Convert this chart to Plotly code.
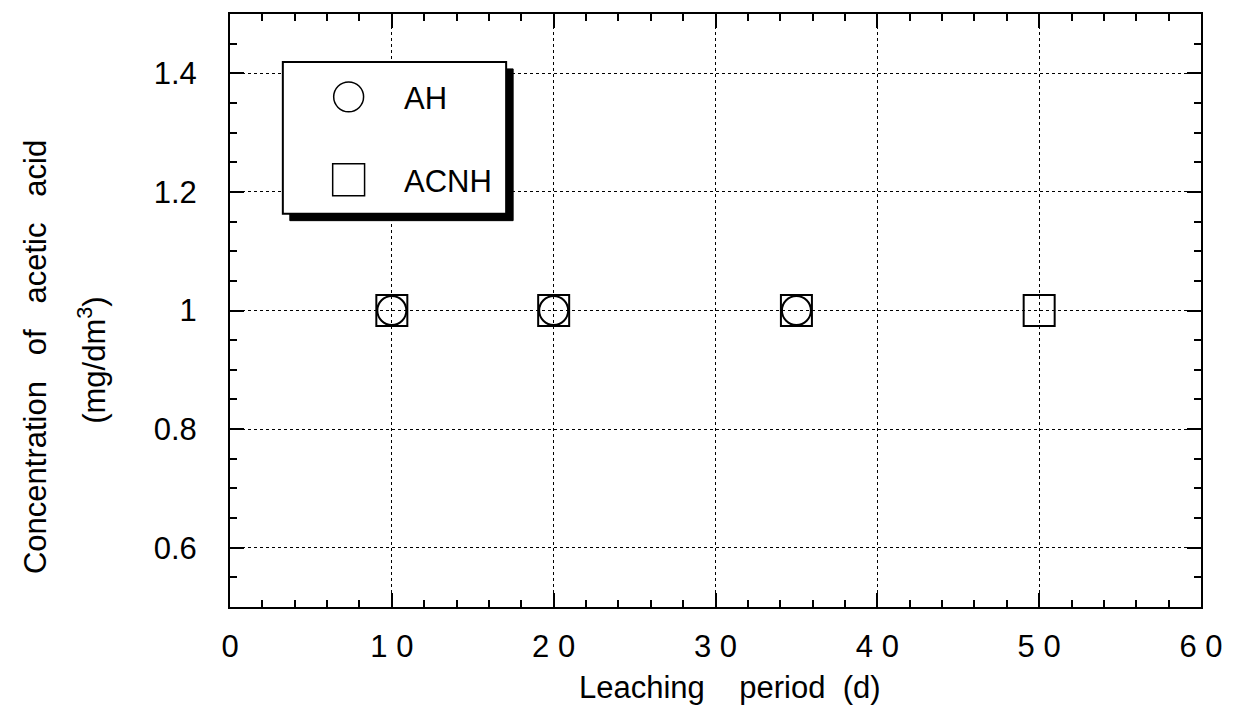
import plotly.graph_objects as go

# Data
ah_x = [10, 20, 35]
ah_y = [1.0, 1.0, 1.0]
acnh_x = [10, 20, 35, 50]
acnh_y = [1.0, 1.0, 1.0, 1.0]
x_ticks = [0, 10, 20, 30, 40, 50, 60]
x_ticktext = ["0", "1 0", "2 0", "3 0", "4 0", "5 0", "6 0"]
y_ticks = [0.6, 0.8, 1.0, 1.2, 1.4]
y_ticktext = ["0.6", "0.8", "1", "1.2", "1.4"]

W, H = 1235, 719
L, R, T, B = 230, 1204, 13, 607
FONT = "Liberation Sans, Arial, sans-serif"
NB = "\u00a0"

def px(x):
    return (x - L) / (R - L)

def py(y):
    return (B - y) / (B - T)

fig = go.Figure()
fig.add_trace(go.Scatter(x=acnh_x, y=acnh_y, mode="markers", name="ACNH",
                         marker=dict(symbol="square-open", size=31, color="black",
                                     line=dict(width=2, color="black")),
                         showlegend=False))
fig.add_trace(go.Scatter(x=ah_x, y=ah_y, mode="markers", name="AH",
                         marker=dict(symbol="circle-open", size=29, color="black",
                                     line=dict(width=2, color="black")),
                         showlegend=False))

axis_common = dict(showline=True, linecolor="black", linewidth=2, mirror="ticks",
                   ticks="inside", tickcolor="black", tickwidth=2, ticklen=14,
                   showgrid=True, gridcolor="black", griddash="dot", gridwidth=1,
                   zeroline=False,
                   tickfont=dict(family=FONT, size=31, color="black"))

fig.update_xaxes(range=[0, 60], tickvals=x_ticks, ticktext=x_ticktext,
                 minor=dict(dtick=2, ticks="inside", ticklen=7, tickcolor="black", tickwidth=1.5, showgrid=False),
                 ticklabelstandoff=11, **axis_common)
fig.update_yaxes(range=[0.5, 1.5], tickvals=y_ticks, ticktext=y_ticktext,
                 minor=dict(dtick=0.05, tick0=0.5, ticks="inside", ticklen=7, tickcolor="black", tickwidth=1.5, showgrid=False),
                 ticklabelstandoff=25, **axis_common)

TF = dict(family=FONT, size=31, color="black")
# X title
fig.add_annotation(x=px(732), y=py(688), xref="paper", yref="paper",
                   xanchor="center", yanchor="middle",
                   text="Leaching" + NB * 4 + "period" + NB * 2 + "(d)", showarrow=False, font=TF)
# Y title (two lines)
fig.add_annotation(x=px(35), y=py(357), xref="paper", yref="paper",
                   xanchor="center", yanchor="middle",
                   text="Concentration" + NB * 3 + "of" + NB * 3 + "acetic" + NB * 3 + "acid",
                   textangle=-90, showarrow=False, font=TF)
fig.add_annotation(x=px(92), y=py(360), xref="paper", yref="paper",
                   xanchor="center", yanchor="middle",
                   text="(mg/dm<sup>3</sup>)", textangle=-90, showarrow=False, font=TF)

# Legend box with shadow
bx0, by0, bx1, by1 = 283, 61, 507, 213
fig.add_shape(type="rect", xref="paper", yref="paper",
              x0=px(bx0 + 7), x1=px(bx1 + 7), y0=py(by0 + 7), y1=py(by1 + 7),
              fillcolor="black", line=dict(color="black", width=1))
fig.add_shape(type="rect", xref="paper", yref="paper",
              x0=px(bx0), x1=px(bx1), y0=py(by0), y1=py(by1),
              fillcolor="white", line=dict(color="black", width=2))
# legend symbols
cx, cy, r = 349, 96, 15
fig.add_shape(type="circle", xref="paper", yref="paper",
              x0=px(cx - r), x1=px(cx + r), y0=py(cy - r), y1=py(cy + r),
              line=dict(color="black", width=1.5), fillcolor="white")
sx, sy, s = 349, 179, 16
fig.add_shape(type="rect", xref="paper", yref="paper",
              x0=px(sx - s), x1=px(sx + s), y0=py(sy - s), y1=py(sy + s),
              line=dict(color="black", width=1.5), fillcolor="white")
LF = dict(family=FONT, size=31, color="black")
fig.add_annotation(x=px(403), y=py(98), xref="paper", yref="paper",
                   xanchor="left", yanchor="middle",
                   text="AH", showarrow=False, font=LF)
fig.add_annotation(x=px(403), y=py(181), xref="paper", yref="paper",
                   xanchor="left", yanchor="middle",
                   text="ACNH", showarrow=False, font=LF)

fig.update_layout(width=W, height=H, margin=dict(l=L, r=W - R, t=T, b=H - B),
                  paper_bgcolor="white", plot_bgcolor="white", showlegend=False)
fig.write_html("out.html")
